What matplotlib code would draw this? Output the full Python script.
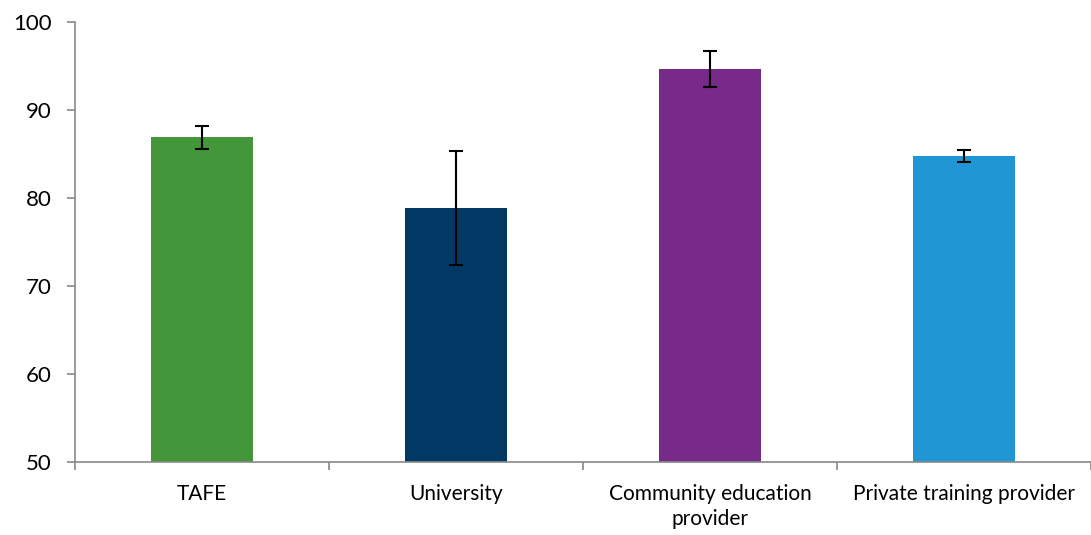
import numpy as np
import matplotlib.pyplot as plt

categories = ["TAFE", "University", "Community education\nprovider", "Private training provider"]
values = [86.9, 78.9, 94.7, 84.8]
err_low = [85.6, 72.4, 92.6, 84.05]
err_high = [88.2, 85.3, 96.7, 85.45]
colors = ["#43963A", "#023864", "#782A88", "#2097D4"]

plt.rcParams['font.family'] = ['Lato', 'DejaVu Sans']

fig = plt.figure(figsize=(10.91, 5.35), dpi=100)
ax = fig.add_axes([75 / 1091, (535 - 462) / 535, 1016 / 1091, 440 / 535])

x = np.arange(len(categories))
yerr = [np.array(values) - np.array(err_low), np.array(err_high) - np.array(values)]
ax.bar(x, np.array(values) - 50, bottom=50, width=0.4, color=colors, zorder=2)
ax.errorbar(x, values, yerr=yerr, fmt='none', ecolor='black', elinewidth=1.5,
            capsize=5, capthick=1.5, zorder=3)

ax.set_xlim(-0.5, len(categories) - 0.5)
ax.set_ylim(50, 100)
ax.set_yticks([50, 60, 70, 80, 90, 100])
ax.tick_params(axis='y', labelsize=16, length=6, color='#898989', width=1.2, pad=11)

ax.set_xticks(x)
ax.set_xticklabels(categories, fontsize=15, linespacing=1.3)
ax.tick_params(axis='x', which='major', length=0, pad=16)
ax.set_xticks(np.arange(len(categories) + 1) - 0.5, minor=True)
ax.tick_params(axis='x', which='minor', length=6, color='#898989', width=1.2)

for s in ['top', 'right']:
    ax.spines[s].set_visible(False)
for s in ['left', 'bottom']:
    ax.spines[s].set_color('#898989')
    ax.spines[s].set_linewidth(1.2)

fig.savefig("out.png", dpi=100)
